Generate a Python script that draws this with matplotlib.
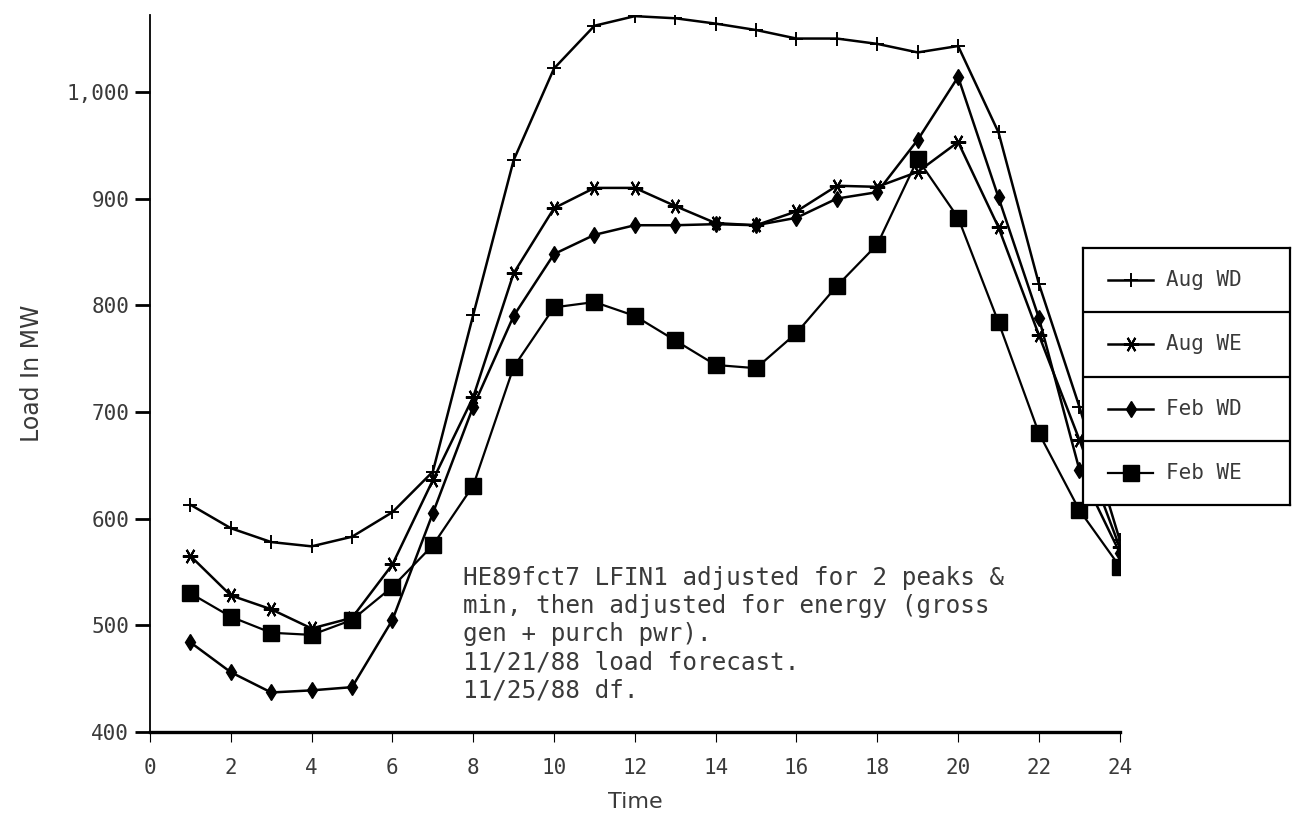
"""Hourly load forecast, Aug/Feb weekday vs weekend (HE89fct7 LFIN1)."""
import matplotlib

matplotlib.use("Agg")

import matplotlib.pyplot as plt  # noqa: E402
from matplotlib.ticker import FuncFormatter  # noqa: E402

HOURS = list(range(1, 25))

AUG_WD = [613, 591, 578, 574, 583, 606, 644, 791, 936, 1022, 1062, 1071,
          1069, 1064, 1058, 1050, 1050, 1045, 1037, 1043, 962, 820, 705, 580]
AUG_WE = [565, 528, 515, 497, 507, 557, 636, 714, 830, 891, 910, 910,
          893, 877, 875, 888, 912, 911, 925, 953, 873, 772, 674, 573]
FEB_WD = [484, 456, 437, 439, 442, 505, 605, 705, 790, 848, 866, 875,
          875, 876, 875, 882, 900, 906, 955, 1014, 901, 788, 646, 568]
FEB_WE = [530, 508, 493, 491, 505, 536, 575, 631, 742, 798, 803, 790,
          767, 744, 741, 774, 818, 857, 937, 882, 784, 680, 608, 555]

SERIES = [("Aug WD", AUG_WD), ("Aug WE", AUG_WE),
          ("Feb WD", FEB_WD), ("Feb WE", FEB_WE)]

X_TICKS = list(range(0, 25, 2))
Y_TICKS = [400, 500, 600, 700, 800, 900, 1000]

NOTE = ("HE89fct7 LFIN1 adjusted for 2 peaks &\n"
        "min, then adjusted for energy (gross\n"
        "gen + purch pwr).\n"
        "11/21/88 load forecast.\n"
        "11/25/88 df.")

STYLE = {
    "Aug WD": dict(marker="+", ms=10, mew=1.4, lw=1.8),
    "Aug WE": dict(marker=(6, 2, 90), ms=11, mew=1.5, lw=1.8),
    "Feb WD": dict(marker="d", ms=8.5, mew=1.0, lw=1.8),
    "Feb WE": dict(marker="s", ms=11, mew=1.0, lw=1.6),
}

MONO = "DejaVu Sans Mono"
GREY = "#3a3a3a"

fig = plt.figure(figsize=(12.93, 8.24), dpi=100)
ax = fig.add_axes([0.116, 0.1117, 0.750, 0.870])

for name, vals in SERIES:
    ax.plot(HOURS, vals, color="black", label=name, zorder=3, **STYLE[name])

ax.set_xlim(0, 24)
ax.set_ylim(400, 1072)
ax.set_xticks(X_TICKS)
ax.set_yticks(Y_TICKS)
ax.yaxis.set_major_formatter(FuncFormatter(lambda v, _: f"{int(v):,}"))

for side in ("top", "right"):
    ax.spines[side].set_visible(False)
ax.spines["left"].set_linewidth(1.3)
ax.spines["bottom"].set_linewidth(2.4)

ax.tick_params(axis="y", direction="out", length=11, width=2.0, pad=4,
               labelsize=15, labelcolor=GREY)
ax.tick_params(axis="x", direction="out", length=7, width=0.8, pad=12,
               labelsize=15, labelcolor=GREY)
for lab in ax.get_xticklabels() + ax.get_yticklabels():
    lab.set_family(MONO)

ax.set_xlabel("Time", fontsize=16, color=GREY, labelpad=10)
ax.set_ylabel("Load In MW", fontsize=17, color=GREY, labelpad=16)

ax.text(0.323, 0.232, NOTE, transform=ax.transAxes, ha="left", va="top",
        family=MONO, fontsize=17.5, color=GREY, linespacing=1.22, zorder=4)

# boxed legend, one cell per series, hanging off the right edge
lax = fig.add_axes([0.8376, 0.387, 0.160, 0.312])
lax.set_xlim(0, 1)
lax.set_ylim(0, len(SERIES))
lax.set_xticks([])
lax.set_yticks([])
for sp in lax.spines.values():
    sp.set_linewidth(1.6)
for i, (name, _) in enumerate(SERIES):
    yc = len(SERIES) - i - 0.5
    lax.plot([0.12, 0.23, 0.34], [yc, yc, yc], color="black",
             markevery=[1], **STYLE[name])
    lax.text(0.40, yc, name, ha="left", va="center", family=MONO,
             fontsize=15, color=GREY)
    if i:
        lax.axhline(len(SERIES) - i, color="black", lw=1.6)

fig.savefig("out.png", dpi=100, facecolor="white")
